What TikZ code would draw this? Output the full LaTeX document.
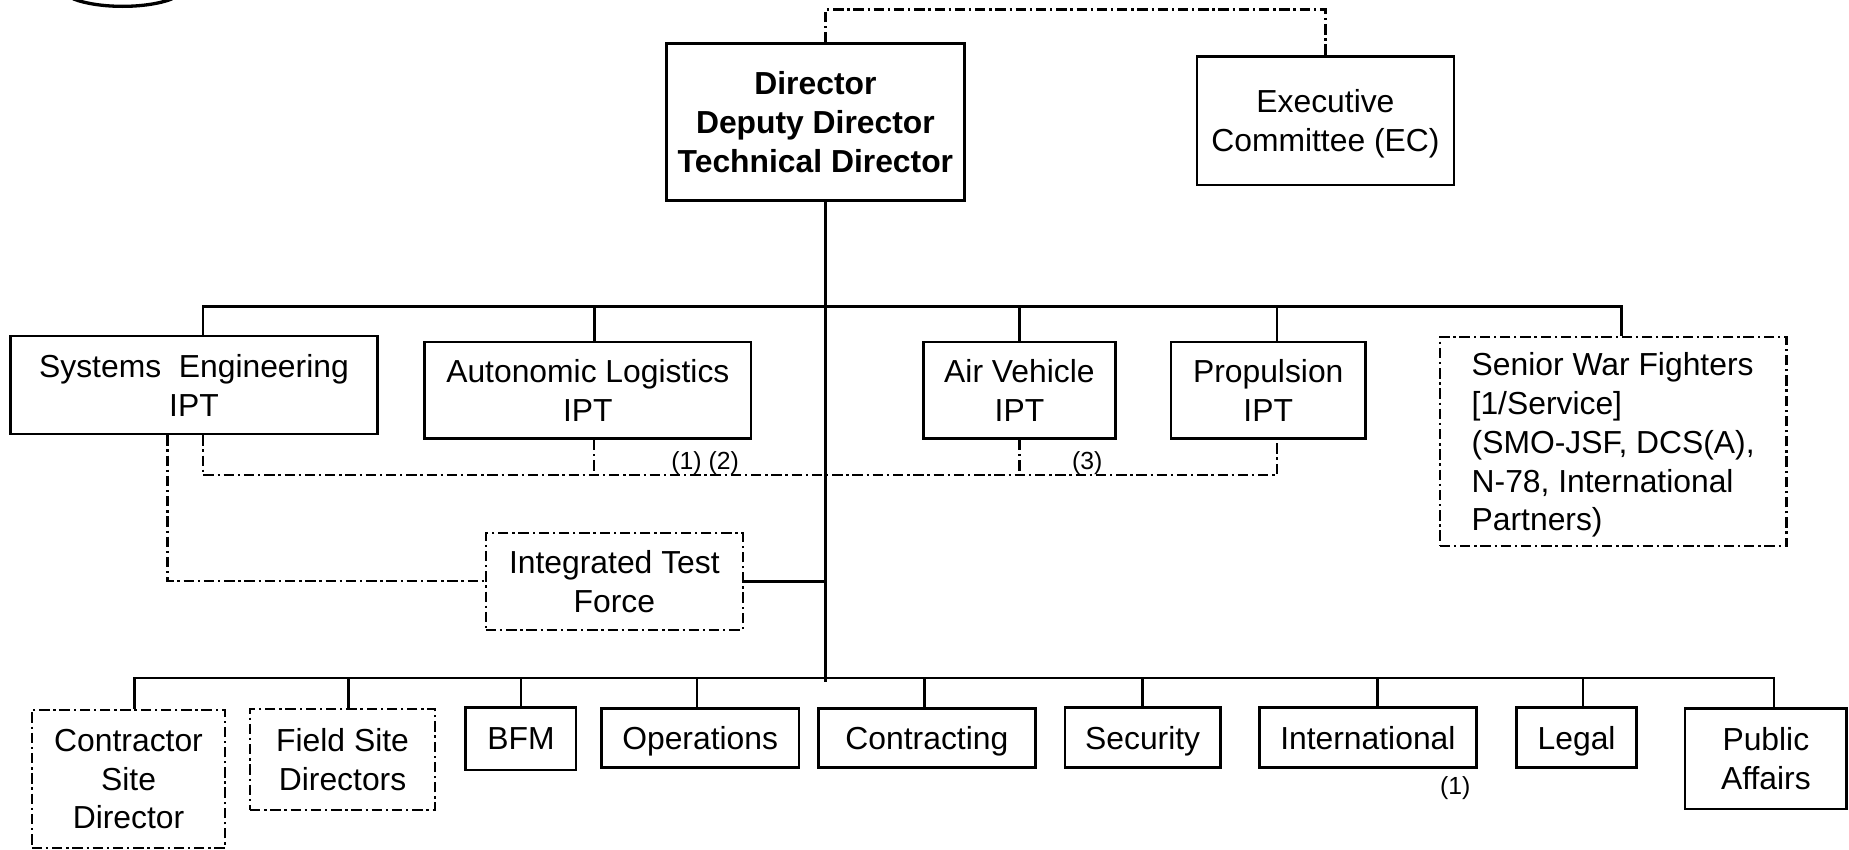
\documentclass[tikz,border=0pt]{standalone}
\usepackage{fontspec}
\setmainfont{Liberation Sans}
\begin{document}
\begin{tikzpicture}[x=0.5pt,y=-0.5pt,
  txt/.style={font=\fontsize{13.5}{16.5}\selectfont},
  small/.style={font=\fontsize{10.5}{12}\selectfont, inner sep=0pt},
  box/.style={draw, line width=1.1pt, inner sep=0pt, align=center, text depth=-2pt, txt},
  dbox/.style={box, line width=0.95pt, dash pattern=on 4.4pt off 1.6pt on 1pt off 1.6pt},
  ln/.style={line width=1pt},
  dd/.style={line width=0.9pt, dash pattern=on 4.4pt off 1.6pt on 1pt off 1.6pt}]
\useasboundingbox (0,0) rectangle (1568,720);
% partial circle at top left
\draw[line width=1.4pt] (62,-1) .. controls (84,7.5) and (124,7.5) .. (146,-1);

% top level
\node[box, text depth=-3.5pt, minimum width=126.5pt, minimum height=66.5pt, font=\fontsize{13.5}{16.5}\selectfont\bfseries] (dir) at (691.5,103.5) {Director\\Deputy Director\\Technical Director};
\node[box, minimum width=109pt, minimum height=54.5pt] (ec) at (1124,102.5) {Executive\\Committee (EC)};

% IPT level
\node[box, minimum width=155.5pt, minimum height=41.5pt] (se) at (164.5,326.5) {Systems\ \ Engineering\\IPT};
\node[box, minimum width=138.5pt, minimum height=41pt] (al) at (498.5,331) {Autonomic Logistics\\IPT};
\node[box, minimum width=81.5pt, minimum height=41pt] (av) at (864.5,331) {Air Vehicle\\IPT};
\node[box, minimum width=82.5pt, minimum height=41pt] (pr) at (1075.5,331) {Propulsion\\IPT};
\node[dbox, minimum width=147pt, minimum height=88.5pt, align=left] (swf) at (1368,374.5) {Senior War Fighters\\{[1/Service]}\\(SMO-JSF, DCS(A),\\N-78, International\\Partners)};
\node[dbox, minimum width=109pt, minimum height=41pt] (itf) at (521,493) {Integrated Test\\Force};

% bottom level
\node[dbox, minimum width=82pt, minimum height=58.5pt] (csd) at (109,660.5) {Contractor\\Site\\Director};
\node[dbox, minimum width=78.5pt, minimum height=43pt] (fsd) at (290.5,644) {Field Site\\Directors};
\node[box, minimum width=46.75pt, minimum height=26.5pt] (bfm) at (441.75,626.5) {BFM};
\node[box, minimum width=83.75pt, minimum height=25pt] (ops) at (593.75,626) {Operations};
\node[box, minimum width=92pt, minimum height=25pt] (con) at (786,626) {Contracting};
\node[box, minimum width=66pt, minimum height=25.5pt] (sec) at (969,625.5) {Security};
\node[box, minimum width=92pt, minimum height=25.5pt] (int) at (1160,625.5) {International};
\node[box, minimum width=51pt, minimum height=25.5pt] (leg) at (1337,625.5) {Legal};
\node[box, minimum width=68.5pt, minimum height=42.5pt] (pa) at (1497.5,643.5) {Public\\Affairs};

% labels
\node[small] (l12) at (598,393) {(1) (2)};
\node[small] (l3) at (922,393) {(3)};
\node[small] (l1) at (1234,668) {(1)};

% helper coordinates
\coordinate (tx) at (700,0);
\coordinate (b1) at (0,260);
\coordinate (b2) at (0,575);
\coordinate (d1) at (0,403);
\coordinate (tp) at (0,8);
\coordinate (seN) at ([xshift=3.75pt]se.north);
\coordinate (alN) at ([xshift=2.75pt]al.north);
\coordinate (prN) at ([xshift=3.75pt]pr.north);
\coordinate (swfN) at ([xshift=3.5pt]swf.north);
\coordinate (seS) at ([xshift=3.75pt]se.south);
\coordinate (seS2) at ([xshift=-11.25pt]se.south);
\coordinate (alS) at ([xshift=2.75pt]al.south);
\coordinate (prS) at ([xshift=3.75pt]pr.south);
\coordinate (csdN) at ([xshift=2.5pt]csd.north);
\coordinate (fsdN) at ([xshift=2.5pt]fsd.north);
\coordinate (opsN) at ([xshift=-1.4pt]ops.north);
\coordinate (conN) at ([xshift=-1pt]con.north);
\coordinate (intN) at ([xshift=4pt]int.north);
\coordinate (legN) at ([xshift=2.8pt]leg.north);
\coordinate (paN) at ([xshift=3.5pt]pa.north);

% top dash-dot link
\draw[dd] (dir.north -| tx) -- (tx |- tp) -- (ec.north |- tp) -- (ec.north);

% trunk
\draw[ln] (dir.south -| tx) -- ([yshift=-1.5pt]tx |- b2);

% IPT bus
\draw[ln] (seN) -- (seN |- b1) -- (swfN |- b1) -- (swfN);
\draw[ln] (alN) -- (alN |- b1);
\draw[ln] (av.north) -- (av.north |- b1);
\draw[ln] (prN) -- (prN |- b1);

% dash-dot links under IPTs
\draw[dd] (seS) -- (seS |- d1) -- (prS |- d1) -- (prS);
\draw[dd] (alS) -- (alS |- d1);
\draw[dd] (av.south) -- (av.south |- d1);
\draw[dd] (seS2) |- (itf.west);

% integrated test force
\draw[ln] (itf.east) -- (itf.east -| tx);

% bottom bus
\draw[ln] (csdN) -- (csdN |- b2) -- (paN |- b2) -- (paN);
\draw[ln] (fsdN) -- (fsdN |- b2);
\draw[ln] (bfm.north) -- (bfm.north |- b2);
\draw[ln] (opsN) -- (opsN |- b2);
\draw[ln] (conN) -- (conN |- b2);
\draw[ln] (sec.north) -- (sec.north |- b2);
\draw[ln] (intN) -- (intN |- b2);
\draw[ln] (legN) -- (legN |- b2);
\end{tikzpicture}
\end{document}
